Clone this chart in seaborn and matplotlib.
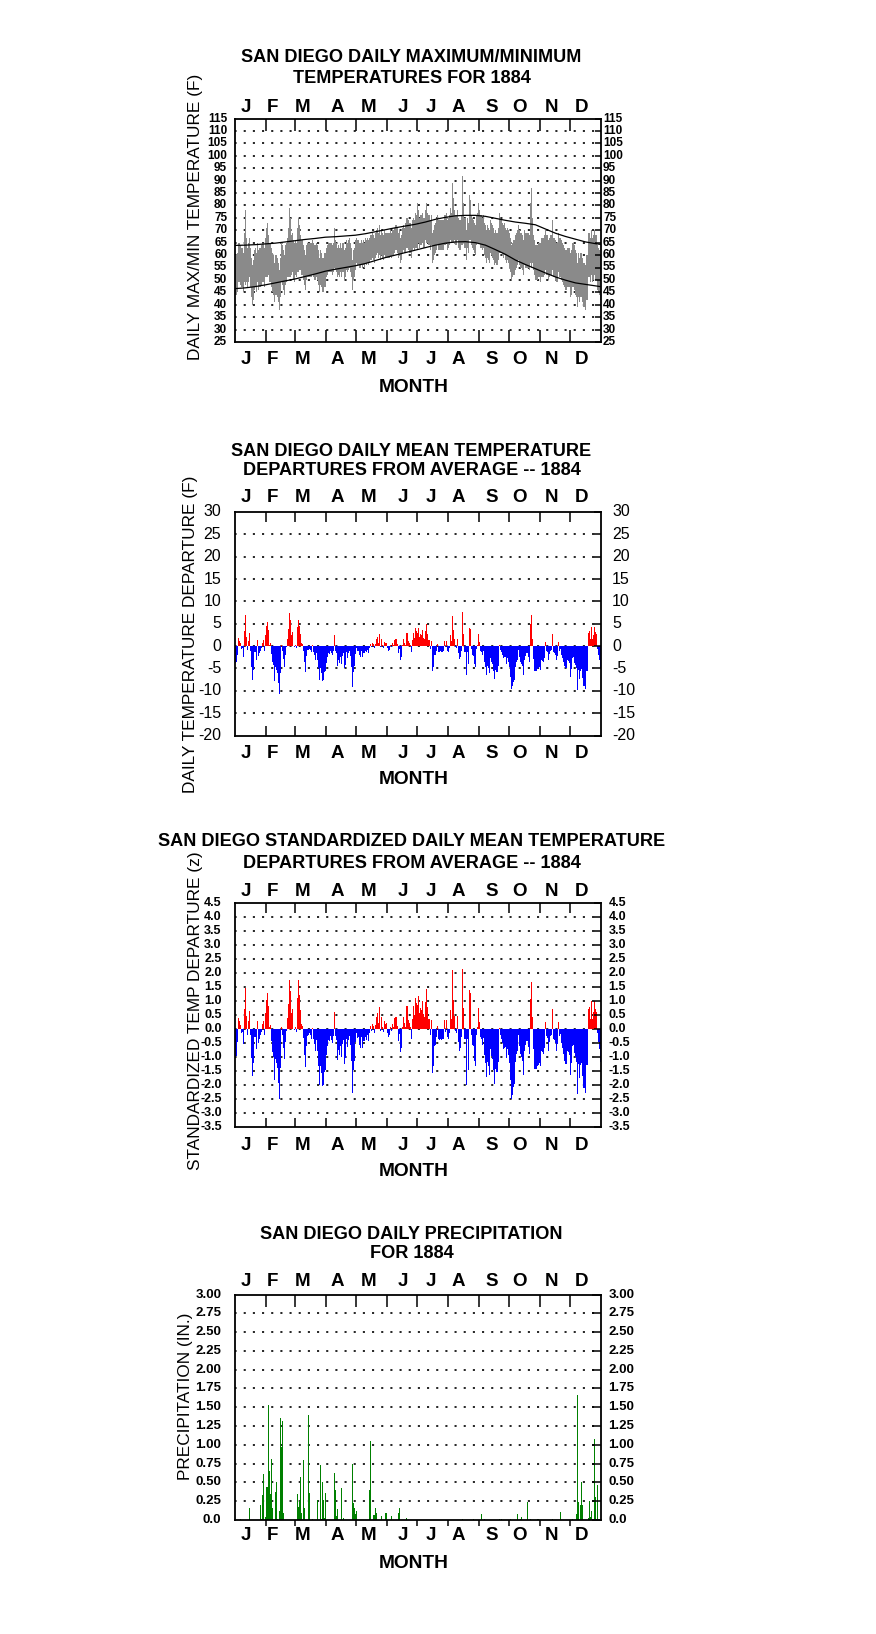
import numpy as np
import matplotlib
matplotlib.use("Agg")
import matplotlib.pyplot as plt
import matplotlib.transforms as mtrans
import seaborn as sns

sns.set_theme(style="white")
plt.rcParams["font.family"] = ["Liberation Sans", "DejaVu Sans"]
plt.rcParams["lines.scale_dashes"] = False
plt.rcParams["text.color"] = "black"
plt.rcParams["axes.labelcolor"] = "black"

# ---------------- data ----------------
MONTHS = ["J", "F", "M", "A", "M", "J", "J", "A", "S", "O", "N", "D"]
MONTH_STARTS = [31, 60, 91, 121, 152, 182, 213, 244, 274, 305, 335]

daily_max = [
    60, 60, 61, 65, 65, 64, 63, 63, 61, 69, 78, 67, 63, 65, 67, 63, 59, 56, 58, 62, 63, 61, 65, 62, 63, 63, 64, 65, 65, 63, 67,
    71, 73, 68, 65, 65, 63, 61, 60, 57, 60, 60, 59, 57, 54, 59, 65, 64, 62, 60, 64, 65, 67, 71, 79, 75, 68, 69, 66, 65,
    66, 65, 71, 75, 72, 68, 66, 66, 64, 62, 60, 64, 65, 65, 65, 65, 65, 66, 65, 64, 64, 65, 64, 62, 59, 62, 61, 59, 59, 61, 61,
    63, 64, 65, 65, 65, 65, 64, 65, 71, 66, 65, 63, 64, 63, 65, 63, 65, 65, 62, 63, 66, 65, 66, 67, 65, 63, 58, 62, 63, 66,
    67, 66, 66, 65, 65, 66, 65, 66, 65, 67, 66, 67, 66, 67, 68, 68, 69, 68, 67, 69, 70, 71, 69, 72, 68, 70, 69, 68, 70, 69, 69,
    69, 69, 69, 70, 69, 70, 70, 71, 72, 72, 71, 69, 70, 67, 68, 71, 72, 71, 73, 75, 75, 74, 73, 73, 71, 74, 75, 74, 77, 76,
    81, 78, 75, 76, 76, 77, 75, 75, 78, 81, 77, 76, 76, 74, 76, 69, 70, 72, 73, 74, 76, 74, 74, 74, 74, 74, 74, 76, 76, 77, 74,
    75, 76, 79, 77, 89, 83, 78, 76, 76, 78, 75, 74, 74, 76, 92, 81, 75, 75, 70, 75, 73, 84, 82, 76, 75, 74, 73, 72, 76, 77, 81,
    78, 76, 76, 75, 76, 73, 72, 70, 72, 71, 70, 74, 73, 72, 71, 69, 70, 69, 69, 71, 77, 74, 74, 73, 72, 73, 71, 70, 71, 70,
    69, 67, 64, 65, 66, 66, 68, 69, 70, 72, 70, 69, 69, 68, 66, 70, 69, 69, 69, 69, 68, 81, 87, 75, 68, 66, 64, 64, 64, 65, 65,
    65, 67, 67, 67, 68, 70, 68, 68, 66, 67, 68, 68, 74, 67, 67, 66, 65, 65, 69, 67, 67, 66, 65, 64, 63, 62, 62, 63, 63, 63,
    61, 62, 65, 65, 64, 62, 61, 57, 61, 59, 61, 61, 59, 57, 57, 56, 60, 60, 69, 69, 67, 70, 67, 68, 70, 68, 68, 64, 63, 62, 60,
]
daily_min = [
    44, 44, 45, 49, 49, 48, 47, 47, 45, 49, 48, 49, 47, 49, 51, 47, 43, 40, 42, 46, 47, 45, 49, 46, 47, 47, 48, 49, 49, 47, 51,
    51, 51, 52, 49, 49, 47, 45, 44, 41, 44, 44, 43, 41, 38, 43, 49, 48, 46, 44, 48, 49, 51, 51, 51, 51, 52, 53, 50, 49,
    52, 51, 53, 53, 54, 54, 52, 52, 50, 48, 46, 50, 51, 51, 51, 51, 51, 52, 51, 50, 50, 51, 50, 48, 45, 48, 47, 45, 45, 47, 47,
    51, 52, 53, 53, 53, 53, 52, 53, 55, 54, 53, 51, 52, 51, 53, 51, 53, 53, 50, 51, 54, 53, 54, 55, 53, 51, 46, 50, 51, 54,
    57, 56, 56, 55, 55, 56, 55, 56, 55, 57, 56, 57, 56, 57, 58, 58, 59, 58, 57, 59, 60, 61, 59, 60, 58, 60, 59, 58, 60, 59, 59,
    59, 59, 59, 60, 59, 60, 60, 61, 62, 62, 61, 59, 60, 57, 58, 61, 62, 61, 61, 63, 63, 62, 61, 61, 59, 62, 63, 62, 63, 63,
    62, 65, 63, 64, 64, 65, 63, 63, 66, 65, 65, 64, 64, 62, 64, 57, 58, 60, 61, 62, 64, 62, 62, 62, 62, 62, 62, 64, 64, 65, 62,
    63, 64, 66, 65, 65, 65, 66, 64, 64, 66, 63, 62, 62, 64, 64, 65, 63, 63, 58, 63, 61, 66, 66, 64, 63, 62, 61, 60, 64, 65, 65,
    65, 63, 63, 62, 63, 60, 59, 57, 59, 58, 57, 61, 60, 59, 58, 56, 57, 56, 56, 58, 61, 61, 61, 60, 59, 60, 58, 57, 58, 57,
    55, 53, 50, 51, 52, 52, 54, 55, 56, 58, 56, 55, 55, 54, 52, 56, 55, 55, 55, 55, 54, 57, 55, 57, 54, 52, 50, 50, 50, 51, 51,
    49, 51, 51, 51, 52, 54, 52, 52, 50, 51, 52, 52, 54, 51, 51, 50, 49, 49, 53, 51, 51, 50, 49, 48, 47, 46, 46, 47, 47, 47,
    43, 44, 47, 47, 46, 44, 43, 39, 43, 41, 43, 43, 41, 39, 39, 38, 42, 42, 51, 51, 49, 52, 49, 50, 52, 50, 50, 46, 45, 44, 42,
]

normal_days = [0, 10, 20, 30, 40, 50, 60, 70, 80, 90, 100, 110, 120, 130, 140, 150, 160, 170, 180,
               190, 200, 210, 220, 230, 240, 250, 260, 270, 280, 290, 300, 310, 320, 330, 340, 350, 360, 365]
normal_max = [63.9, 64.0, 64.2, 64.5, 64.8, 65.3, 65.8, 66.3, 66.7, 67.2, 67.4, 67.7, 68.0, 68.6, 69.4, 70.2, 71.0, 71.7, 72.4,
              73.3, 74.4, 75.2, 75.8, 76.0, 76.0, 75.6, 74.8, 74.0, 73.3, 72.8, 72.2, 70.5, 68.8, 67.5, 66.4, 65.3, 64.6, 64.3]
normal_min = [46.5, 46.8, 47.3, 48.0, 48.8, 49.6, 50.4, 51.4, 52.4, 53.5, 54.3, 55.0, 55.7, 56.6, 57.8, 59.0, 60.0, 61.0, 62.0,
              63.0, 64.0, 64.8, 65.3, 65.4, 65.0, 64.0, 62.2, 60.3, 58.0, 56.2, 54.5, 52.8, 51.2, 49.9, 48.8, 48.2, 47.6, 47.3]

departure = [
    -3.8, -3.6, -2.0, 1.8, 1.2, 0.6, -0.6, -0.5, -2.4, 3.3,
    6.9, 2.0, -0.9, 1.2, 2.9, -1.0, -4.6, -7.5, -5.3, -1.3,
    -1.3, -3.2, 1.3, -2.2, -1.5, -1.0, -0.5, 0.8, 1.3, -1.0,
    2.5, 4.5, 5.5, 3.5, 0.3, 0.6, -1.8, -3.5, -4.3, -7.8,
    -4.6, -5.3, -6.0, -8.3, -10.7, -6.0, 0.3, -1.0, -2.9, -4.6,
    -2.0, -0.3, 1.7, 3.9, 7.5, 5.8, 2.4, 3.1, 0.0, -0.2,
    0.3, -0.4, 4.2, 5.9, 4.6, 2.6, 0.7, 0.4, -1.2, -3.5,
    -5.8, -2.3, -0.9, -0.8, -0.6, -0.8, -1.3, 0.2, -1.3, -2.0,
    -3.0, -1.5, -3.0, -5.0, -7.6, -5.0, -6.0, -7.8, -7.6, -5.9,
    -5.5, -3.7, -2.4, -1.5, -1.7, -1.0, -1.5, -2.0, -1.0, 2.4,
    -1.0, -1.5, -4.4, -3.0, -3.7, -2.4, -4.0, -2.2, -1.5, -5.0,
    -4.2, -1.4, -2.6, -1.5, -1.0, -2.3, -4.6, -9.2, -5.8, -4.5,
    -1.8, -0.5, -1.2, -1.0, -2.0, -2.5, -1.0, -2.4, -1.5, -1.6,
    -1.0, -1.4, -0.8, -1.6, -0.5, 0.4, -0.3, 0.7, 0.4, -0.5,
    0.5, 1.6, 2.0, 0.8, 2.8, -0.3, 1.6, 0.3, -0.4, 1.0,
    0.6, 0.8, -0.5, -1.0, -0.8, 0.2, -0.3, 0.6, 0.2, 1.4,
    1.6, 1.5, 0.4, -1.6, -0.6, -3.0, -2.4, 0.3, 1.5, 0.8,
    0.3, 3.0, 3.0, 1.2, 0.8, 0.2, -1.3, 1.3, 2.9, 1.8,
    4.0, 3.3, 3.0, 4.1, 2.0, 2.6, 2.4, 3.5, 1.9, 1.5,
    3.4, 5.0, 2.8, 1.3, 1.3, -0.7, 1.1, -5.5, -4.6, -2.1,
    -2.0, -1.0, 0.4, -1.3, -1.4, -1.2, -1.4, -1.3, -1.2, 1.1,
    -0.3, 1.1, -1.0, -1.3, -0.5, 2.4, 1.2, 6.7, 3.7, 1.7,
    -0.3, -0.5, 1.6, -1.6, -2.8, -2.4, -1.0, 7.6, 2.7, -1.3,
    -1.3, -6.4, -1.3, -4.1, 4.1, 3.8, -0.7, -2.0, -2.2, -4.1,
    -4.7, -0.7, 0.2, 2.7, 0.9, -1.0, -1.3, -2.1, -1.2, -3.5,
    -4.6, -6.4, -4.4, -5.0, -6.1, -2.7, -3.6, -4.0, -5.5, -7.4,
    -5.4, -5.8, -5.8, -4.4, 0.2, -0.8, -1.3, -1.9, -2.7, -2.5,
    -2.4, -3.9, -2.7, -3.5, -4.7, -7.0, -9.6, -9.0, -8.0, -7.6,
    -4.6, -3.5, -3.0, -0.9, -2.4, -3.5, -3.9, -4.4, -6.4, -3.0,
    -2.2, -1.6, -1.6, -2.5, -3.5, 5.0, 6.9, 1.6, -2.8, -5.5,
    -5.5, -5.5, -5.1, -5.0, -4.7, -5.3, -3.1, -3.3, -3.5, -2.7,
    1.0, -1.0, -1.3, -3.1, -1.8, -1.0, -0.9, 2.8, -1.4, -1.6,
    -2.0, -3.1, -2.2, 1.0, -1.0, -0.7, -2.0, -2.7, -3.5, -4.5,
    -5.0, -5.0, -3.1, -3.3, -3.7, -7.0, -5.2, -2.6, -2.4, -3.7,
    -4.2, -5.0, -9.8, -5.3, -7.4, -5.5, -5.2, -7.2, -8.9, -9.0,
    -9.7, -5.5, -5.5, 3.0, 3.4, 1.5, 4.3, 1.5, 2.5, 4.3,
    3.1, 2.6, -0.7, -2.0, -3.1, -5.0,
]

z_departure = [
    -1.00, -0.95, -0.45, 0.41, 0.27, 0.14, -0.14, -0.11, -0.55, 0.70,
    1.45, 0.45, -0.20, 0.27, 0.66, -0.23, -1.05, -1.68, -1.20, -0.30,
    -0.30, -0.73, 0.30, -0.50, -0.34, -0.23, -0.11, 0.18, 0.30, -0.23,
    0.57, 1.05, 1.28, 0.81, 0.07, 0.14, -0.42, -0.81, -1.00, -1.81,
    -1.07, -1.23, -1.40, -1.93, -2.49, -1.40, 0.07, -0.23, -0.67, -1.07,
    -0.47, -0.07, 0.40, 0.91, 1.74, 1.35, 0.56, 0.72, 0.00, -0.05,
    0.08, -0.11, 1.10, 1.75, 1.21, 0.68, 0.18, 0.11, -0.32, -0.92,
    -1.35, -0.61, -0.24, -0.21, -0.16, -0.21, -0.34, 0.05, -0.34, -0.53,
    -0.79, -0.39, -0.79, -1.32, -2.00, -1.32, -1.58, -2.05, -2.00, -1.55,
    -1.45, -0.93, -0.60, -0.38, -0.43, -0.25, -0.38, -0.50, -0.25, 0.60,
    -0.25, -0.38, -1.10, -0.75, -0.93, -0.60, -1.00, -0.55, -0.38, -1.25,
    -1.05, -0.35, -0.65, -0.38, -0.25, -0.58, -1.15, -2.30, -1.45, -1.13,
    -0.45, -0.14, -0.33, -0.28, -0.56, -0.69, -0.28, -0.67, -0.42, -0.44,
    -0.28, -0.39, -0.22, -0.44, -0.14, 0.11, -0.08, 0.19, 0.11, -0.14,
    0.14, 0.44, 0.56, 0.22, 0.78, -0.08, 0.44, 0.08, -0.11, 0.28,
    0.17, 0.22, -0.14, -0.28, -0.22, 0.06, -0.08, 0.17, 0.06, 0.39,
    0.44, 0.42, 0.11, -0.44, -0.17, -0.83, -0.67, 0.08, 0.42, 0.22,
    0.08, 0.83, 0.83, 0.33, 0.22, 0.06, -0.36, 0.36, 0.81, 0.50,
    1.11, 0.92, 0.86, 1.17, 0.57, 0.74, 0.69, 1.00, 0.54, 0.43,
    0.97, 1.43, 0.80, 0.37, 0.37, -0.20, 0.31, -1.57, -1.31, -0.60,
    -0.57, -0.29, 0.11, -0.37, -0.40, -0.34, -0.40, -0.37, -0.34, 0.31,
    -0.09, 0.31, -0.29, -0.37, -0.14, 0.68, 0.34, 2.12, 1.04, 0.48,
    -0.08, -0.14, 0.45, -0.45, -0.79, -0.68, -0.28, 2.14, 0.76, -0.37,
    -0.37, -2.00, -0.37, -1.45, 1.40, 1.30, -0.20, -0.56, -0.62, -1.15,
    -1.32, -0.20, 0.06, 0.76, 0.24, -0.27, -0.35, -0.56, -0.32, -0.93,
    -1.23, -1.71, -1.17, -1.33, -1.63, -0.72, -0.96, -1.07, -1.47, -1.97,
    -1.44, -1.55, -1.55, -1.17, 0.05, -0.21, -0.35, -0.51, -0.72, -0.67,
    -0.64, -1.04, -0.72, -0.93, -1.22, -1.82, -2.49, -2.34, -2.08, -1.97,
    -1.19, -0.91, -0.78, -0.23, -0.62, -0.91, -1.01, -1.14, -1.66, -0.78,
    -0.57, -0.42, -0.42, -0.65, -0.91, 1.06, 1.68, 0.42, -0.73, -1.43,
    -1.43, -1.43, -1.32, -1.30, -1.22, -1.33, -0.78, -0.83, -0.88, -0.68,
    0.25, -0.25, -0.33, -0.78, -0.45, -0.25, -0.23, 0.70, -0.35, -0.40,
    -0.50, -0.78, -0.55, 0.25, -0.25, -0.18, -0.50, -0.68, -0.88, -1.13,
    -1.25, -1.25, -0.78, -0.83, -0.93, -1.65, -1.22, -0.61, -0.56, -0.87,
    -0.99, -1.18, -2.31, -1.25, -1.74, -1.29, -1.22, -1.69, -2.09, -2.12,
    -2.28, -1.29, -1.29, 0.71, 0.80, 0.35, 1.01, 0.35, 0.59, 1.01,
    0.73, 0.61, -0.16, -0.47, -0.73, -1.18,
]

precip_days = [5, 14, 25, 26, 27, 28, 30, 31, 32, 33, 34, 35, 36, 37, 40, 41, 42, 44, 45, 46,
               47, 48, 62, 63, 64, 65, 66, 68, 69, 73, 74, 77, 82, 85, 86, 87, 88, 89, 90, 99,
               100, 101, 102, 106, 108, 117, 118, 119, 120, 121, 134, 135, 138, 139, 140, 141, 146, 150, 151, 156,
               163, 164, 171, 227, 238, 246, 249, 264, 266, 275, 282, 285, 286, 292, 295, 302, 303, 317, 325, 337,
               341, 342, 343, 345, 346, 347, 353, 354, 355, 356, 359, 360, 362]
precip_in = [0.01, 0.16, 0.20, 0.01, 0.33, 0.61, 0.04, 0.44, 0.44, 1.53, 0.65, 0.35, 0.81, 0.16, 0.37, 0.51, 0.01, 0.12, 1.36, 0.97,
             1.32, 0.09, 0.35, 0.17, 0.25, 0.57, 0.09, 0.80, 0.16, 1.40, 0.36, 0.01, 0.27, 0.73, 0.01, 0.51, 0.27, 0.03, 0.36, 0.63,
             0.40, 0.05, 0.15, 0.43, 0.03, 0.74, 0.23, 0.16, 0.08, 0.12, 0.40, 1.05, 0.07, 0.07, 0.16, 0.09, 0.05, 0.09, 0.09, 0.05,
             0.09, 0.16, 0.03, 0.01, 0.01, 0.08, 0.01, 0.01, 0.01, 0.01, 0.08, 0.01, 0.04, 0.24, 0.01, 0.01, 0.01, 0.01, 0.11, 0.01,
             0.08, 1.66, 0.24, 0.20, 0.51, 0.20, 0.03, 0.25, 0.04, 0.12, 1.08, 0.31, 0.47]

# ---------------- layout (pixels of the 876x1634 canvas) ----------------
W, H = 876, 1634
AX_L, AX_R = 234.7, 601.0
MONTH_LABEL_X = [10.8, 38, 67.5, 102, 134, 168.5, 196, 223.5, 256.5, 285, 316.5, 347]

fig = plt.figure(figsize=(W / 100, H / 100), dpi=100)
fig.patch.set_facecolor("white")


def fx(x):
    return x / W


def fy(y):
    return 1 - y / H


def add_ax(top, bottom):
    ax = fig.add_axes([fx(AX_L), fy(bottom), (AX_R - AX_L) / W, (bottom - top) / H])
    ax.set_facecolor("white")
    return ax


def style_panel(ax, top, bottom, ylim, ticks, labels, lab_size, lab_bold, lpad, rpad,
                rtick, mtick_top, mtick_bot, titles, title_ys, ylabel, ylab_x, ylab_y,
                mrow_top, mrow_bot, month_y, bottom_out=False):
    ax.set_xlim(0, 366)
    ax.set_ylim(*ylim)
    for s in ax.spines.values():
        s.set_color("black")
        s.set_linewidth(1.3)
    ax.set_xticks([])
    ax.set_yticks([])
    ax.grid(False)
    for t in ticks:
        if ylim[0] < t < ylim[1]:
            ax.axhline(t, color="black", lw=1.2, linestyle=(0.34, (1.5, 5.1)), zorder=0.5)
    axw = AX_R - AX_L
    axh = bottom - top
    tr = mtrans.blended_transform_factory(ax.transAxes, ax.transData)
    for t in ticks:
        ax.plot([1 - rtick / axw, 1], [t, t], transform=tr, color="black", lw=1.1,
                solid_capstyle="butt", clip_on=False, zorder=5)
    for t, lab in zip(ticks, labels):
        ax.text(-lpad / axw, t, lab, transform=tr, ha="right", va="center", color="black",
                fontsize=lab_size, fontweight="bold" if lab_bold else "normal")
        ax.text(1 + rpad / axw, t, lab, transform=tr, ha="left", va="center", color="black",
                fontsize=lab_size, fontweight="bold" if lab_bold else "normal")
    trx = mtrans.blended_transform_factory(ax.transData, ax.transAxes)
    for m in MONTH_STARTS:
        ax.plot([m, m], [1, 1 - mtick_top / axh], transform=trx, color="black", lw=1.1,
                solid_capstyle="butt", clip_on=False, zorder=5)
        if bottom_out:
            ax.plot([m, m], [0, -mtick_bot / axh], transform=trx, color="black", lw=1.1,
                    solid_capstyle="butt", clip_on=False, zorder=5)
        else:
            ax.plot([m, m], [0, mtick_bot / axh], transform=trx, color="black", lw=1.1,
                    solid_capstyle="butt", clip_on=False, zorder=5)
    for mx, lab in zip(MONTH_LABEL_X, MONTHS):
        px = AX_L + mx * (AX_R - AX_L) / 366
        fig.text(fx(px), fy(mrow_top), lab, ha="center", va="center", fontsize=13.5, fontweight="bold")
        fig.text(fx(px), fy(mrow_bot), lab, ha="center", va="center", fontsize=13.5, fontweight="bold")
    fig.text(fx(413.5), fy(month_y), "MONTH", ha="center", va="center", fontsize=13.8, fontweight="bold")
    for t, ty in zip(titles, title_ys):
        fig.text(fx(411.5), fy(ty), t, ha="center", va="center", fontsize=13.1, fontweight="bold")
    fig.text(fx(ylab_x), fy(ylab_y), ylabel, ha="center", va="center", rotation=90, fontsize=12.4)


days = np.arange(366)
xc = days + 0.5

# ---------------- panel 1: max / min ----------------
P1T, P1B = 118.5, 342.0
ax1 = add_ax(P1T, P1B)
tmax = np.array(daily_max, dtype=float)
tmin = np.array(daily_min, dtype=float)
ax1.bar(xc, tmax - tmin, bottom=tmin, width=1.0, color="#8a8a8a", linewidth=0, zorder=2)
sns.lineplot(x=np.array(normal_days) + 0.5, y=normal_max, color="black", linewidth=0.9, ax=ax1, zorder=3)
sns.lineplot(x=np.array(normal_days) + 0.5, y=normal_min, color="black", linewidth=0.9, ax=ax1, zorder=3)
t1 = list(range(25, 116, 5))
style_panel(ax1, P1T, P1B, (25, 115), t1, [str(t) for t in t1], 8.5, True, 7.5, 2.0, 6, 12, 12,
            ["SAN DIEGO DAILY MAXIMUM/MINIMUM", "TEMPERATURES FOR 1884"], [57.3, 78.1],
            "DAILY MAX/MIN TEMPERATURE (F)", 195.2, 217, 107.3, 359.5, 387.7)
ax1.set_xlabel("")
ax1.set_ylabel("")

# ---------------- panel 2: departures ----------------
P2T, P2B = 512.0, 735.5
ax2 = add_ax(P2T, P2B)
dep = np.array(departure)
sign2 = np.where(dep >= 0, "above", "below")
sns.barplot(x=xc, y=dep, hue=sign2, palette={"above": "#ff0000", "below": "#0000ff"},
            native_scale=True, dodge=False, width=1.0, saturation=1, errorbar=None,
            legend=False, linewidth=0, ax=ax2, zorder=2)
t2 = list(range(-20, 31, 5))
style_panel(ax2, P2T, P2B, (-20, 30), t2, [str(t) for t in t2], 11.5, False, 13.5, 11.0, 7, 9.5, 9.5,
            ["SAN DIEGO DAILY MEAN TEMPERATURE", "DEPARTURES FROM AVERAGE -- 1884"], [451.0, 470.5],
            "DAILY TEMPERATURE DEPARTURE (F)", 191.0, 634.5, 498.0, 753.0, 779.5)
ax2.set_xlabel("")
ax2.set_ylabel("")

# ---------------- panel 3: standardized departures ----------------
P3T, P3B = 903.0, 1127.0
ax3 = add_ax(P3T, P3B)
zd = np.array(z_departure)
sign3 = np.where(zd >= 0, "above", "below")
sns.barplot(x=xc, y=zd, hue=sign3, palette={"above": "#ff0000", "below": "#0000ff"},
            native_scale=True, dodge=False, width=1.0, saturation=1, errorbar=None,
            legend=False, linewidth=0, ax=ax3, zorder=2)
t3 = [v / 2 for v in range(-7, 10)]
style_panel(ax3, P3T, P3B, (-3.5, 4.5), t3, [f"{t:.1f}" for t in t3], 9.0, True, 13.0, 7.5, 7, 9.5, 9.5,
            ["SAN DIEGO STANDARDIZED DAILY MEAN TEMPERATURE", "DEPARTURES FROM AVERAGE -- 1884"], [842.0, 864.0],
            "STANDARDIZED TEMP DEPARTURE (z)", 195.2, 1010.5, 891.0, 1145.0, 1171.0)
ax3.set_xlabel("")
ax3.set_ylabel("")

# ---------------- panel 4: precipitation ----------------
P4T, P4B = 1294.5, 1520.0
ax4 = add_ax(P4T, P4B)
sns.barplot(x=np.array(precip_days) + 0.5, y=precip_in, color="#008000", native_scale=True,
            width=0.8, saturation=1, errorbar=None, linewidth=0, ax=ax4, zorder=2)
t4 = [v / 4 for v in range(0, 13)]
lab4 = ["0.0"] + [f"{t:.2f}" for t in t4[1:]]
style_panel(ax4, P4T, P4B, (0, 3.0), t4, lab4, 9.5, True, 13.5, 7.5, 9, 12, 6,
            ["SAN DIEGO DAILY PRECIPITATION", "FOR 1884"], [1234.9, 1253.7],
            "PRECIPITATION (IN.)", 185.5, 1396.5, 1282.0, 1536.0, 1563.0, bottom_out=True)
ax4.set_xlabel("")
ax4.set_ylabel("")

fig.savefig("out.png", dpi=100, facecolor="white")
